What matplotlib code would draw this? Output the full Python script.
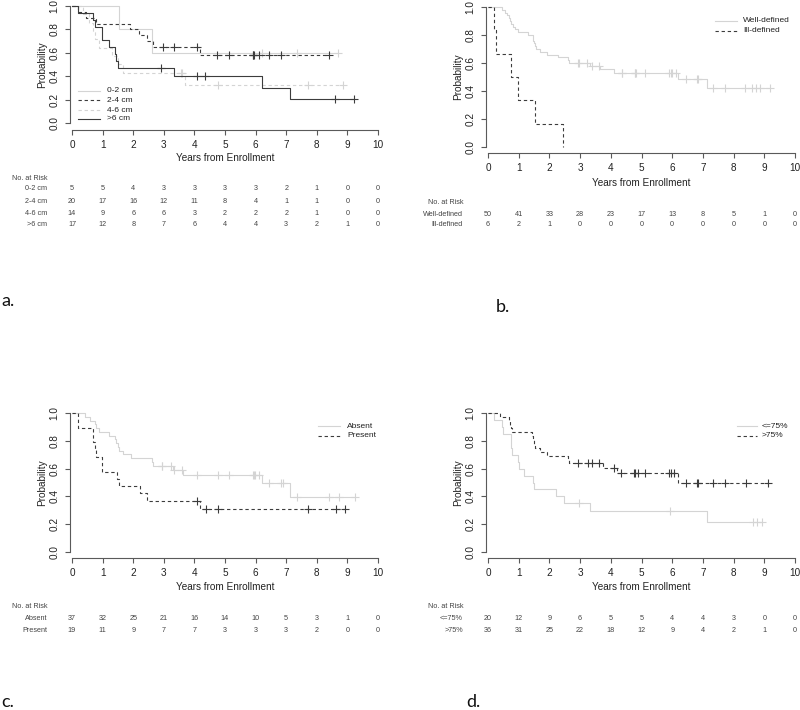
import matplotlib
matplotlib.use("Agg")
import matplotlib.pyplot as plt
import numpy as np
from matplotlib.lines import Line2D
from matplotlib.transforms import blended_transform_factory

plt.rcParams['font.family'] = ['Liberation Sans', 'DejaVu Sans']

# ---------------- data ----------------
years = list(range(11))

# Panel a: tumour size
a_labels = ["0-2 cm", "2-4 cm", "4-6 cm", ">6 cm"]
a_0_2_t = [1.52, 2.63]
a_0_2_s = [0.80, 0.60]
a_0_2_c = [6.2, 7.35, 8.7]
a_2_4_t = [0.2, 0.45, 0.8, 1.9, 2.2, 2.45, 2.65, 4.18]
a_2_4_s = [0.95, 0.90, 0.85, 0.80, 0.75, 0.70, 0.65, 0.585]
a_2_4_c = [2.96, 3.34, 4.1, 4.75, 5.12, 5.9, 5.92, 5.95, 6.1, 6.45, 6.83, 8.4]
a_4_6_t = [0.35, 0.55, 0.7, 0.75, 0.87, 1.3, 1.5, 1.68, 3.7]
a_4_6_s = [0.929, 0.857, 0.786, 0.714, 0.643, 0.571, 0.5, 0.429, 0.321]
a_4_6_c = [3.55, 3.6, 4.78, 7.72, 8.86]
a_gt6_t = [0.18, 0.7, 0.75, 0.99, 0.995, 1.2, 1.41, 1.45, 1.49, 3.32, 6.22, 7.14]
a_gt6_s = [0.941, 0.882, 0.824, 0.765, 0.706, 0.647, 0.588, 0.529, 0.471, 0.403, 0.303, 0.202]
a_gt6_c = [2.91, 4.08, 4.35, 8.6, 9.2]
a_risk_0_2 = [5, 5, 4, 3, 3, 3, 3, 2, 1, 0, 0]
a_risk_2_4 = [20, 17, 16, 12, 11, 8, 4, 1, 1, 0, 0]
a_risk_4_6 = [14, 9, 6, 6, 3, 2, 2, 2, 1, 0, 0]
a_risk_gt6 = [17, 12, 8, 7, 6, 4, 4, 3, 2, 1, 0]

# Panel b: margin definition
b_labels = ["Well-defined", "Ill-defined"]
b_well_t = [0.45, 0.55, 0.62, 0.68, 0.72, 0.75, 0.8, 0.88, 0.99, 1.3, 1.46, 1.48, 1.5, 1.52,
            1.55, 1.68, 1.92, 2.28, 2.62, 2.65, 3.33, 3.66, 4.1, 6.2, 7.13]
b_well_s = [0.98, 0.96, 0.94, 0.92, 0.90, 0.88, 0.86, 0.84, 0.82, 0.80, 0.78, 0.76, 0.74, 0.72,
            0.70, 0.68, 0.66, 0.64, 0.62, 0.60, 0.578, 0.554, 0.530, 0.486, 0.425]
b_well_c = [2.93, 2.95, 3.24, 3.38, 3.62, 4.36, 4.37, 4.79, 4.80, 4.82, 5.12, 5.91, 5.97, 5.99,
            6.13, 6.45, 6.8, 6.85, 7.34, 7.72, 8.37, 8.59, 8.73, 8.86, 9.19]
b_ill_t = [0.18, 0.27, 0.76, 0.99, 1.54, 2.44]
b_ill_s = [0.833, 0.667, 0.5, 0.333, 0.167, 0.0]
b_ill_c = []
b_risk_well = [50, 41, 33, 28, 23, 17, 13, 8, 5, 1, 0]
b_risk_ill = [6, 2, 1, 0, 0, 0, 0, 0, 0, 0, 0]

# Panel c: absent / present
c_labels = ["Absent", "Present"]
c_abs_t = [0.43, 0.6, 0.76, 0.8, 0.87, 1.2, 1.41, 1.45, 1.5, 1.52, 1.68, 1.92, 2.63, 2.64,
           3.29, 3.64, 6.2, 7.14]
c_abs_s = [0.973, 0.946, 0.919, 0.892, 0.865, 0.838, 0.811, 0.784, 0.757, 0.730, 0.703, 0.676,
           0.649, 0.622, 0.591, 0.556, 0.494, 0.395]
c_abs_c = [2.93, 2.95, 3.24, 3.34, 3.61, 4.1, 4.78, 5.12, 5.92, 5.95, 5.97, 6.1, 6.45, 6.83,
           6.9, 7.34, 8.39, 8.73, 9.24]
c_pre_t = [0.18, 0.2, 0.68, 0.7, 0.75, 0.79, 0.98, 0.985, 1.47, 1.52, 2.23, 2.45, 4.18]
c_pre_s = [0.947, 0.895, 0.842, 0.789, 0.737, 0.684, 0.632, 0.579, 0.526, 0.474, 0.421, 0.368, 0.307]
c_pre_c = [4.1, 4.37, 4.78, 7.72, 8.62, 8.91]
c_risk_abs = [37, 32, 25, 21, 16, 14, 10, 5, 3, 1, 0]
c_risk_pre = [19, 11, 9, 7, 7, 3, 3, 3, 2, 0, 0]

# Panel d: <=75% / >75%
d_labels = ["<=75%", ">75%"]
d_le_t = [0.18, 0.46, 0.48, 0.74, 0.76, 0.78, 0.99, 0.995, 1.18, 1.46, 1.51, 2.22, 2.46, 3.31, 7.13]
d_le_s = [0.95, 0.90, 0.85, 0.80, 0.75, 0.70, 0.65, 0.60, 0.55, 0.50, 0.45, 0.40, 0.35, 0.292, 0.219]
d_le_c = [2.97, 5.93, 8.64, 8.77, 8.92]
d_gt_t = [0.4, 0.7, 0.72, 0.75, 0.78, 1.43, 1.45, 1.5, 1.53, 1.7, 1.92, 2.62, 2.65, 3.76, 4.2, 6.2]
d_gt_s = [0.972, 0.944, 0.917, 0.889, 0.861, 0.833, 0.806, 0.778, 0.75, 0.722, 0.694, 0.667,
          0.639, 0.605, 0.570, 0.499]
d_gt_c = [2.93, 3.25, 3.38, 3.62, 4.09, 4.33, 4.76, 4.8, 4.87, 5.12, 5.91, 5.95, 6.06, 6.44,
          6.8, 6.85, 7.34, 7.72, 8.4, 9.13]
d_risk_le = [20, 12, 9, 6, 5, 5, 4, 4, 3, 0, 0]
d_risk_gt = [36, 31, 25, 22, 18, 12, 9, 4, 2, 1, 0]

# ---------------- styling ----------------
W, H = 800, 710
LIGHT = '#d4d4d4'
DARK = '#3c3c3c'
AXC = '#5a5a5a'
TXT = '#222222'
TBL = '#444444'
DASH = (0, (3, 2.5))
XLO, XHI = -0.06, 10.15

fig = plt.figure(figsize=(W / 100, H / 100), dpi=100)
fig.patch.set_facecolor('white')


def fx(px):
    return px / W


def fy(py):
    return 1 - py / H


def make_axes(x0, x10, y1, y0, ybot):
    sx = (x10 - x0) / 10.0
    sy = float(y0 - y1)
    ylo = -(ybot - y0) / sy
    yhi = 1.04
    left = x0 + XLO * sx
    right = x0 + XHI * sx
    top = y0 - yhi * sy
    ax = fig.add_axes([left / W, 1 - ybot / H, (right - left) / W, (ybot - top) / H])
    ax.set_xlim(XLO, XHI)
    ax.set_ylim(ylo, yhi)
    ax.patch.set_alpha(0)
    for s in ['top', 'right']:
        ax.spines[s].set_visible(False)
    for s in ['left', 'bottom']:
        ax.spines[s].set_color(AXC)
        ax.spines[s].set_linewidth(0.8)
    ax.spines['left'].set_bounds(0, 1)
    ax.spines['bottom'].set_bounds(0, 10)
    ax.set_xticks(years)
    ax.set_xticklabels([str(v) for v in years])
    yt = [0, 0.2, 0.4, 0.6, 0.8, 1.0]
    ax.set_yticks(yt)
    ax.set_yticklabels(["%.1f" % v for v in yt], rotation=90, va='center')
    ax.tick_params(axis='both', direction='out', length=3.5, width=0.8, color=AXC,
                   labelsize=7.2, labelcolor=TXT)
    ax.tick_params(axis='x', pad=4)
    ax.tick_params(axis='y', pad=4)
    geo = dict(x0=x0, x10=x10, y1=y1, y0=y0, ybot=ybot, left=left, right=right, top=top)
    return ax, geo


def km(ax, t, s, c, color, ls):
    end = max(c) if len(c) else t[-1]
    tt = [0] + list(t) + [end]
    ss = [1] + list(s) + [s[-1]]
    ax.step(tt, ss, where='post', color=color, lw=0.8, linestyle=ls, clip_on=False)
    if len(c):
        idx = np.searchsorted(np.array(t), np.array(c), side='right')
        cy = [1.0 if i == 0 else s[i - 1] for i in idx]
        ax.plot(c, cy, linestyle='none', marker='+', markersize=6, mew=0.8, color=color,
                clip_on=False)


def labels(ax, geo, xlabel_y, ylabel_x):
    tr = blended_transform_factory(ax.transData, fig.transFigure)
    ax.text(5, fy(xlabel_y), "Years from Enrollment", transform=tr, ha='center', va='center',
            fontsize=7.2, color=TXT)
    tr2 = blended_transform_factory(fig.transFigure, ax.transData)
    ax.text(fx(ylabel_x), 0.5, "Probability", transform=tr2, ha='center', va='center',
            rotation=90, fontsize=7.2, color=TXT)


def legend(x_line0, x_line1, x_text, ys, names, colors, styles):
    for y, n, col, ls in zip(ys, names, colors, styles):
        fig.add_artist(Line2D([fx(x_line0), fx(x_line1)], [fy(y), fy(y)], color=col, lw=0.8,
                              linestyle=ls, transform=fig.transFigure))
        fig.text(fx(x_text), fy(y), n, ha='left', va='center', fontsize=6, color=TXT)


def risk_table(ax, lab_x, head_y, rows_y, names, rows):
    tr = blended_transform_factory(ax.transData, fig.transFigure)
    fig.text(fx(lab_x), fy(head_y), "No. at Risk", ha='right', va='center', fontsize=5.2, color=TBL)
    for y, n, r in zip(rows_y, names, rows):
        fig.text(fx(lab_x), fy(y), n, ha='right', va='center', fontsize=5.2, color=TBL)
        for xv, v in zip(years, r):
            ax.text(xv, fy(y), str(v), transform=tr, ha='center', va='center', fontsize=5.2,
                    color=TBL)


# ---------------- panel a ----------------
axa, ga = make_axes(72, 378, 6, 123, 130)
km(axa, a_0_2_t, a_0_2_s, a_0_2_c, LIGHT, '-')
km(axa, a_4_6_t, a_4_6_s, a_4_6_c, LIGHT, DASH)
km(axa, a_2_4_t, a_2_4_s, a_2_4_c, DARK, DASH)
km(axa, a_gt6_t, a_gt6_s, a_gt6_c, DARK, '-')
labels(axa, ga, 158, 42)
legend(78, 100, 107, [91, 100, 110, 119], a_labels, [LIGHT, DARK, LIGHT, DARK],
       ['-', DASH, DASH, '-'])
risk_table(axa, 47, 178, [189, 201, 213, 224], a_labels,
           [a_risk_0_2, a_risk_2_4, a_risk_4_6, a_risk_gt6])

# ---------------- panel b ----------------
axb, gb = make_axes(488, 795, 7, 147, 153)
km(axb, b_well_t, b_well_s, b_well_c, LIGHT, '-')
km(axb, b_ill_t, b_ill_s, b_ill_c, DARK, DASH)
labels(axb, gb, 183, 458)
legend(715, 737, 743, [21, 31], b_labels, [LIGHT, DARK], ['-', DASH])
risk_table(axb, 463, 202, [214, 224], b_labels, [b_risk_well, b_risk_ill])

# ---------------- panel c ----------------
axc, gc = make_axes(72, 378, 413, 552, 558)
km(axc, c_abs_t, c_abs_s, c_abs_c, LIGHT, '-')
km(axc, c_pre_t, c_pre_s, c_pre_c, DARK, DASH)
labels(axc, gc, 587, 42)
legend(318, 340, 347, [426, 436], c_labels, [LIGHT, DARK], ['-', DASH])
risk_table(axc, 47, 606, [618, 630], c_labels, [c_risk_abs, c_risk_pre])

# ---------------- panel d ----------------
axd, gd = make_axes(488, 795, 413, 552, 558)
km(axd, d_le_t, d_le_s, d_le_c, LIGHT, '-')
km(axd, d_gt_t, d_gt_s, d_gt_c, DARK, DASH)
labels(axd, gd, 587, 458)
legend(737, 757, 762, [426, 436], d_labels, [LIGHT, DARK], ['-', DASH])
risk_table(axd, 463, 606, [618, 630], d_labels, [d_risk_le, d_risk_gt])

# ---------------- panel letters ----------------
for px_, py_, t in [(1, 306, 'a.'), (496, 312, 'b.'), (1, 707, 'c.'), (466, 707, 'd.')]:
    fig.text(fx(px_), fy(py_), t, ha='left', va='baseline', fontsize=13,
             family=['Lato', 'DejaVu Sans'], color='#111111')

fig.savefig('out.png', dpi=100, facecolor='white')
